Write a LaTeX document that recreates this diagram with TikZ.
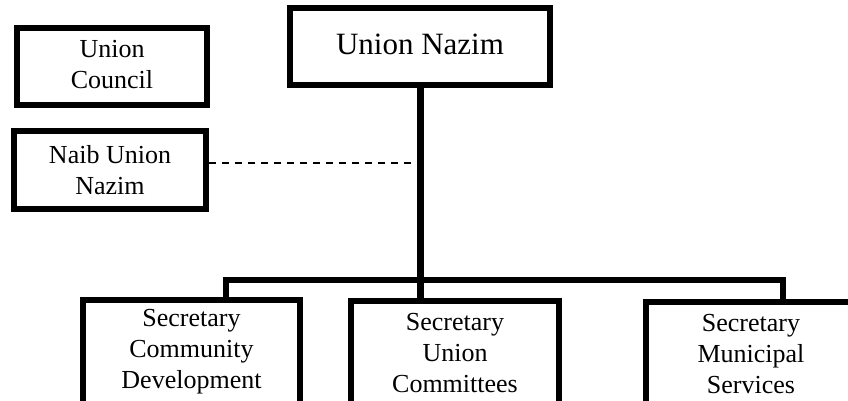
\documentclass[tikz,border=0pt]{standalone}
\usepackage{fontspec}
\setmainfont{Liberation Serif}
\begin{document}
\begin{tikzpicture}[x=1pt,y=-1pt,
  box/.style={draw=black, line width=6pt, fill=white, inner sep=0pt, align=center,
    font=\fontsize{26}{31}\selectfont},
  conn/.style={line width=5.5pt, line join=miter, line cap=rect},
  dashline/.style={line width=1.8pt, dash pattern=on 7pt off 6pt}]
\useasboundingbox (0,0) rectangle (848,400);
\clip (0,0) rectangle (848,400);
% junction coordinates
\coordinate (jl) at (226,280);
\coordinate (jr) at (783,280);
\coordinate (dv) at (418,163);
% nodes
\node[box, minimum width=190pt, minimum height=77pt] (uc) at (112,66.5) {\raisebox{2pt}{\begin{tabular}{@{}c@{}}Union\\Council\end{tabular}}};
\node[box, minimum width=192pt, minimum height=78pt] (nn) at (110,170) {Naib Union\\Nazim};
\node[box, minimum width=260pt, minimum height=77pt, font=\fontsize{31}{36}\selectfont] (un) at (420,46.5) {\raisebox{4pt}{Union Nazim}};
% connectors
\draw[dashline] (nn.east |- dv) -- (dv);
\draw[line width=7pt] (un.south) -- (un.south |- jl);
\draw[conn] (jl) -- (jr);
\node[box, minimum width=217pt, minimum height=104pt] (sc) at (191.5,352) {Secretary\\Community\\Development};
\node[box, minimum width=208pt, minimum height=104pt] (su) at (455,353) {Secretary\\Union\\Committees};
\node[box, minimum width=210pt, minimum height=104pt] (sm) at (751,354) {Secretary\\Municipal\\Services};
\draw[line width=7pt] (un.south |- jl) -- (un.south |- su.north);
\draw[conn] (jl) -- (jl |- sc.north);
\draw[conn] (jr) -- (jr |- sm.north);
\end{tikzpicture}
\end{document}
